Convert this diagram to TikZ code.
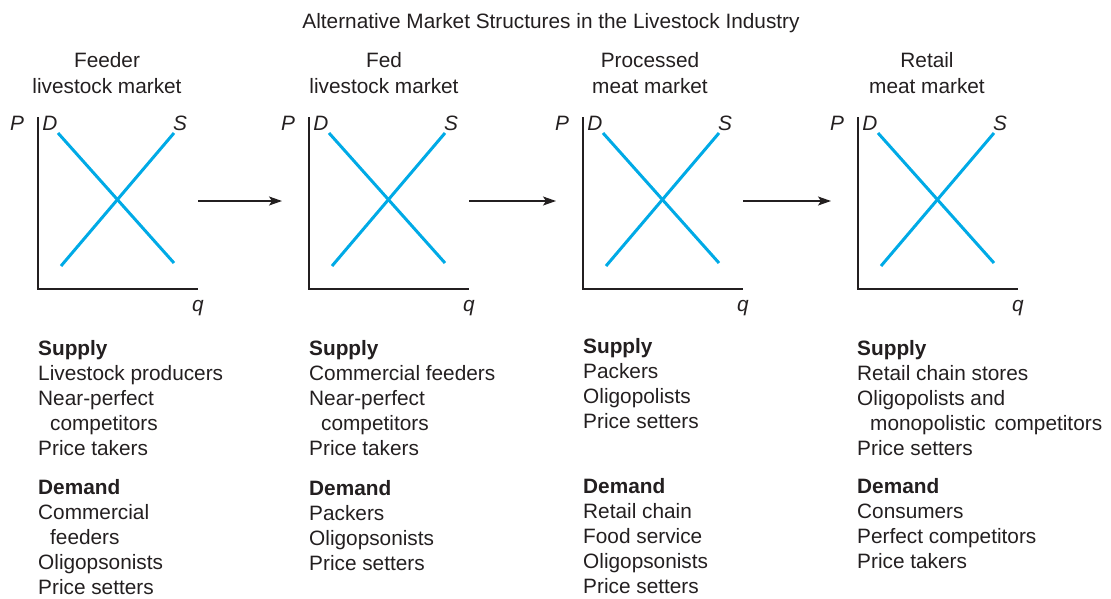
\documentclass[tikz,border=0pt]{standalone}
\usepackage{fontspec}
\setmainfont{Liberation Sans}
\usetikzlibrary{arrows.meta}
\definecolor{curveblue}{RGB}{0,170,230}
\definecolor{ink}{RGB}{35,31,32}
\begin{document}
\begin{tikzpicture}[x=1pt,y=-1pt,
  txt/.style={inner sep=0pt, text=ink, font=\fontsize{20.8}{25}\selectfont},
  axis/.style={draw=ink, line width=2pt},
  curve/.style={draw=curveblue, line width=3pt},
  flow/.style={draw=ink, line width=1.4pt, -{Stealth[length=13pt,width=9pt,inset=3pt]}},
  listbox/.style={txt, anchor=north west, align=left}]
\useasboundingbox (0,0) rectangle (1111,598);

% Title
\node[txt, anchor=base] (title) at (551,28) {Alternative Market Structures in the Livestock Industry};

% Four supply and demand graphs
\foreach \x/\cx/\n/\ta/\tb in {38/107/1/Feeder/livestock market,
    309/384/2/Fed/livestock market,
    583/650/3/Processed/meat market,
    858/927/4/Retail/meat market}{
  \node[txt, anchor=base] (head-\n) at (\cx,67) {\ta};
  \node[txt, anchor=base] (sub-\n) at (\cx,93) {\tb};
  \draw[axis] (\x,117) -- (\x,289) -- (\x+160,289);
  \draw[curve] (\x+20,133) -- (\x+136,263);
  \draw[curve] (\x+23,266) -- (\x+136,133);
  \node[txt, anchor=base] (P-\n) at (\x-21,130) {\textit{P}};
  \node[txt, anchor=base] (D-\n) at (\x+12,130) {\textit{D}};
  \node[txt, anchor=base] (S-\n) at (\x+142,130) {\textit{S}};
  \node[txt, anchor=base] (q-\n) at (\x+160,311) {\textit{q}};
  \coordinate (east-\n) at (\x+160,201);
  \coordinate (west-\n) at (\x-27,201);
}

% Arrows between markets
\draw[flow] (east-1) -- (west-2);
\draw[flow] (east-2) -- (west-3);
\draw[flow] (east-3) -- (west-4);

% Feeder livestock market
\node[listbox] (supply-1) at (38,340) {\textbf{Supply}\\Livestock producers\\Near-perfect\\\hspace*{12pt}competitors\\Price takers};
\node[listbox] (demand-1) at (38,479) {\textbf{Demand}\\Commercial\\\hspace*{12pt}feeders\\Oligopsonists\\Price setters};

% Fed livestock market
\node[listbox] (supply-2) at (309,340) {\textbf{Supply}\\Commercial feeders\\Near-perfect\\\hspace*{12pt}competitors\\Price takers};
\node[listbox] (demand-2) at (309,480) {\textbf{Demand}\\Packers\\Oligopsonists\\Price setters};

% Processed meat market
\node[listbox] (supply-3) at (583,338) {\textbf{Supply}\\Packers\\Oligopolists\\Price setters};
\node[listbox] (demand-3) at (583,478) {\textbf{Demand}\\Retail chain\\Food service\\Oligopsonists\\Price setters};

% Retail meat market
\node[listbox] (supply-4) at (857,340) {\textbf{Supply}\\Retail chain stores\\Oligopolists and\\\hspace*{13pt}monopolistic\hspace{0.15em} competitors\\Price setters};
\node[listbox] (demand-4) at (857,478) {\textbf{Demand}\\Consumers\\Perfect competitors\\Price takers};

\end{tikzpicture}
\end{document}
